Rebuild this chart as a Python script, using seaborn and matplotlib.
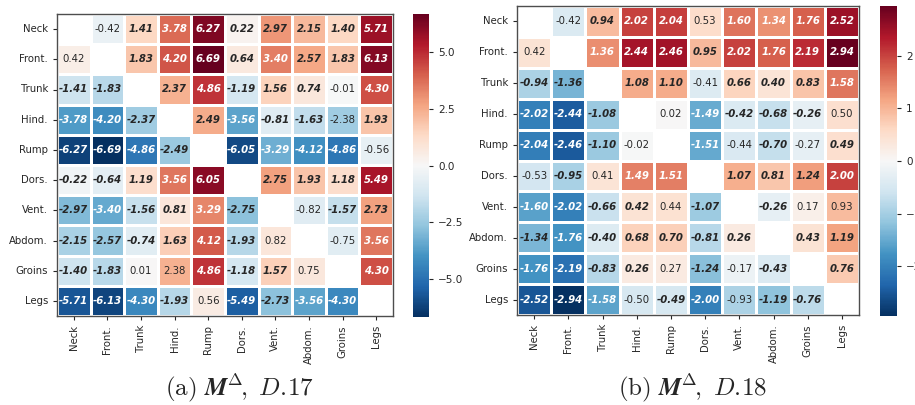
import numpy as np
import pandas as pd
import matplotlib
matplotlib.use("Agg")
import matplotlib.pyplot as plt
import seaborn as sns

regions = ["Neck", "Front.", "Trunk", "Hind.", "Rump", "Dors.", "Vent.", "Abdom.", "Groins", "Legs"]

# Panel (a): D.17  (NaN on diagonal)
d17 = [
    [np.nan, -0.42, 1.41, 3.78, 6.27, 0.22, 2.97, 2.15, 1.40, 5.71],
    [0.42, np.nan, 1.83, 4.20, 6.69, 0.64, 3.40, 2.57, 1.83, 6.13],
    [-1.41, -1.83, np.nan, 2.37, 4.86, -1.19, 1.56, 0.74, -0.01, 4.30],
    [-3.78, -4.20, -2.37, np.nan, 2.49, -3.56, -0.81, -1.63, -2.38, 1.93],
    [-6.27, -6.69, -4.86, -2.49, np.nan, -6.05, -3.29, -4.12, -4.86, -0.56],
    [-0.22, -0.64, 1.19, 3.56, 6.05, np.nan, 2.75, 1.93, 1.18, 5.49],
    [-2.97, -3.40, -1.56, 0.81, 3.29, -2.75, np.nan, -0.82, -1.57, 2.73],
    [-2.15, -2.57, -0.74, 1.63, 4.12, -1.93, 0.82, np.nan, -0.75, 3.56],
    [-1.40, -1.83, 0.01, 2.38, 4.86, -1.18, 1.57, 0.75, np.nan, 4.30],
    [-5.71, -6.13, -4.30, -1.93, 0.56, -5.49, -2.73, -3.56, -4.30, np.nan],
]
# cells (row, col) drawn in regular (non-bold) type
d17_plain = [(0, 1), (1, 0), (2, 8), (3, 8), (4, 9), (6, 7), (7, 6), (7, 8),
             (8, 2), (8, 3), (8, 7), (9, 4)]

# Panel (b): D.18
d18 = [
    [np.nan, -0.42, 0.94, 2.02, 2.04, 0.53, 1.60, 1.34, 1.76, 2.52],
    [0.42, np.nan, 1.36, 2.44, 2.46, 0.95, 2.02, 1.76, 2.19, 2.94],
    [-0.94, -1.36, np.nan, 1.08, 1.10, -0.41, 0.66, 0.40, 0.83, 1.58],
    [-2.02, -2.44, -1.08, np.nan, 0.02, -1.49, -0.42, -0.68, -0.26, 0.50],
    [-2.04, -2.46, -1.10, -0.02, np.nan, -1.51, -0.44, -0.70, -0.27, 0.49],
    [-0.53, -0.95, 0.41, 1.49, 1.51, np.nan, 1.07, 0.81, 1.24, 2.00],
    [-1.60, -2.02, -0.66, 0.42, 0.44, -1.07, np.nan, -0.26, 0.17, 0.93],
    [-1.34, -1.76, -0.40, 0.68, 0.70, -0.81, 0.26, np.nan, 0.43, 1.19],
    [-1.76, -2.19, -0.83, 0.26, 0.27, -1.24, -0.17, -0.43, np.nan, 0.76],
    [-2.52, -2.94, -1.58, -0.50, -0.49, -2.00, -0.93, -1.19, -0.76, np.nan],
]
d18_plain = [(0, 1), (0, 5), (1, 0), (2, 5), (3, 4), (3, 9), (4, 3), (4, 6), (4, 8),
             (5, 0), (5, 2), (6, 4), (6, 8), (6, 9), (8, 4), (8, 6), (9, 3), (9, 6)]

cbar_ticks_a = [-5.0, -2.5, 0.0, 2.5, 5.0]
cbar_ticks_b = [-2, -1, 0, 1, 2]
captions = [r"$\mathrm{(a)}\ \mathbfit{M}^{\Delta}\!,\ \mathit{D.\!17}$",
            r"$\mathrm{(b)}\ \mathbfit{M}^{\Delta}\!,\ \mathit{D.\!18}$"]

sns.set_style("ticks")
plt.rcParams["font.family"] = ["DejaVu Sans"]
plt.rcParams["mathtext.fontset"] = "cm"

W, H = 915, 405
fig = plt.figure(figsize=(W / 100, H / 100), dpi=100)


def box(x0, y0, x1, y1):
    return [x0 / W, 1 - y1 / H, (x1 - x0) / W, (y1 - y0) / H]


panels = [
    (d17, d17_plain, cbar_ticks_a, box(57, 14, 393, 316), box(413, 14, 429, 317), 239),
    (d18, d18_plain, cbar_ticks_b, box(517, 6, 859, 315), box(880, 6, 897, 316), 693),
]

for (vals, plain, cticks, axpos, cpos, capx), cap in zip(panels, captions):
    df = pd.DataFrame(vals, index=regions, columns=regions)
    vmax = np.nanmax(np.abs(df.values))
    ax = fig.add_axes(axpos)
    cax = fig.add_axes(cpos)
    sns.heatmap(df, ax=ax, cbar_ax=cax, cmap="RdBu_r", vmin=-vmax, vmax=vmax, center=0,
                annot=True, fmt=".2f", annot_kws={"fontsize": 7.3},
                linewidths=0.8, linecolor="white", cbar_kws={"ticks": cticks})
    plain_set = set(plain)
    for t in ax.texts:
        x, y = t.get_position()
        i, j = int(y), int(x)
        if (i, j) not in plain_set:
            t.set_fontweight("bold")
            t.set_fontstyle("italic")
    for s in ax.spines.values():
        s.set_visible(True)
        s.set_color("0.3")
        s.set_linewidth(1.0)
    ax.tick_params(axis="both", labelsize=7.3, length=3, width=0.8, color=".15")
    ax.set_xticklabels(regions, rotation=90)
    ax.set_yticklabels(regions, rotation=0)
    cax.tick_params(labelsize=7.5, length=3, width=0.8)
    fig.text(capx / W, 1 - 388 / H, cap, ha="center", va="center", fontsize=18)

fig.savefig("out.png", dpi=100)
